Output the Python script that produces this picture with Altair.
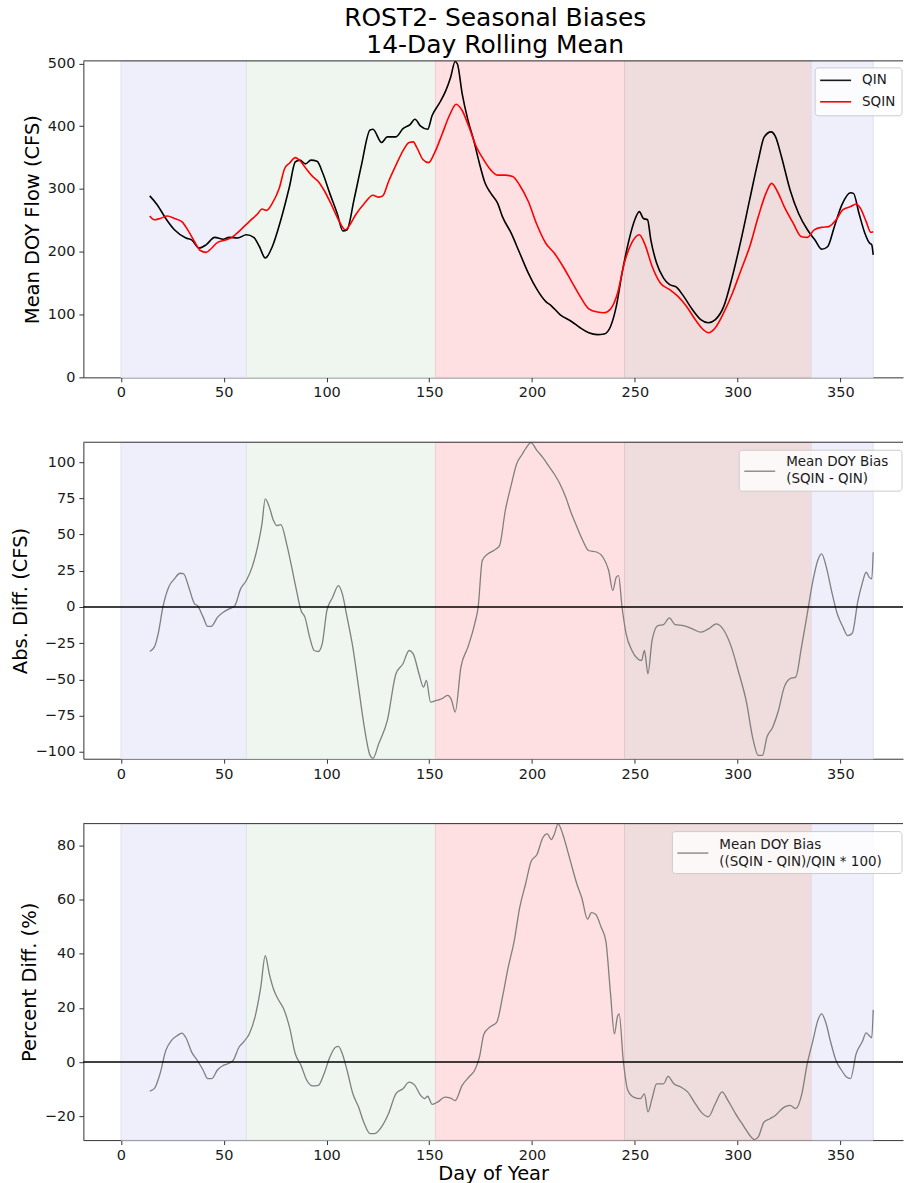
import altair as alt
import pandas as pd

# ---- 14-day rolling mean flow by day of year ----
qin_day = [14, 17.6, 21.8, 26, 31.6, 34.4, 38, 41.4, 45.6, 49.8, 52.6, 56.8, 61, 64.6, 67.4, 70.2, 73.6,
           77.8, 82, 84.8, 87, 89.8, 92.4, 95.4, 98.2, 101.6, 105.2, 108, 110, 113.4, 117, 121.2, 122.6,
           126.8, 129.6, 133.8, 137.2, 140.8, 143, 145.8, 149.2, 151.4, 154.8, 158.1, 160.4, 162.6, 163.7,
           166, 168.8, 171.6, 174.4, 177.2, 180, 183.3, 185.6, 189.8, 194, 198.2, 202.4, 206.6, 209.4,
           213.6, 219.2, 223.4, 227.6, 231.8, 235.1, 238.2, 241, 243.8, 247.2, 250, 252.2, 254.2, 256.2,
           257.8, 260.6, 264, 266.8, 270.1, 273.8, 278, 282.1, 285.8, 289.2, 293.3, 297.5, 301.7, 305.9,
           310.1, 313, 316.3, 318.5, 321.4, 325.6, 329.7, 334, 337.6, 341, 343.8, 347.1, 350.8, 354.9,
           356.4, 359.1, 361.9, 364.2, 365.3, 366]
qin_val = [289, 275, 253, 235, 222, 219, 206, 211, 223, 220, 223, 222, 227, 223, 208, 190, 208,
           251, 304, 343, 346, 340, 346, 344, 325, 293, 261, 233, 235, 283, 338, 394, 395,
           374, 383, 383, 396, 403, 411, 400, 395, 417, 436, 457, 478, 503, 499,
           452, 410, 378, 341, 309, 293, 277, 256, 230, 198, 166, 140, 121, 114,
           100, 89, 79, 71, 68, 69, 81, 113, 166, 219, 251, 264, 253, 251,
           219, 182, 158, 148, 144, 129, 108, 92, 87, 92, 113, 161, 219, 283,
           346, 383, 391, 383, 351, 298, 261, 235, 219, 204, 208, 240, 275, 294,
           293, 261, 230, 214, 211, 195]

sqin_day = [14, 16.2, 19, 22.6, 26, 29.6, 33, 35.8, 38.6, 41.4, 44.2, 47, 51.2, 54, 58.2, 62.4, 66.6,
            68.6, 70.8, 73.6, 77, 79.7, 82, 84.8, 87.6, 90.4, 93.2, 96, 98.8, 102.1, 105.8, 109.1, 111.4,
            114.2, 118.4, 122.6, 125.4, 127.4, 130.2, 133.8, 137.4, 140.2, 142.2, 144.1, 146.9, 149.7,
            152.5, 156.1, 159.8, 163.1, 166, 169.3, 172.9, 176.6, 180, 183.3, 187, 190.6, 194, 198.2,
            202.4, 206.6, 210.8, 215, 219.2, 223.4, 227.6, 231.8, 235.1, 238.2, 241.6, 244.9, 248.5,
            252.2, 255, 258.4, 262.5, 266.8, 271, 275.2, 279.4, 283, 285.8, 289.2, 293.3, 297.5, 301.7,
            305.9, 310.1, 313.8, 316.6, 319.4, 322.7, 327, 331.1, 334, 337.3, 341, 344.3, 348, 351.3,
            355, 357.8, 359.8, 362.6, 364.8, 366]
sqin_val = [257, 251, 253, 257, 253, 248, 232, 216, 202, 199, 206, 215, 219, 223, 235, 248, 261,
            268, 266, 277, 301, 333, 341, 350, 343, 331, 320, 312, 298, 277, 251, 235, 243,
            259, 277, 290, 287, 289, 312, 338, 362, 374, 375, 365, 347, 342,
            357, 386, 417, 435, 425, 399, 367, 346, 330, 322, 322, 320, 306, 280,
            243, 214, 198, 177, 153, 129, 109, 104, 103, 109, 134, 182, 214,
            227, 211, 177, 150, 140, 129, 113, 92, 77, 71, 79, 103, 134, 171,
            208, 256, 293, 309, 296, 272, 246, 224, 223, 235, 239, 240, 251, 267,
            272, 276, 269, 248, 231, 232]

# ---- mean DOY bias, SQIN - QIN (CFS) ----
abs_day = [14, 16.2, 18.1, 20.4, 23.2, 26, 28.8, 30.5, 33, 35.8, 37.2, 40, 42.2, 43.9, 47, 49.8, 52.6,
           55.4, 58.2, 61, 63.8, 66.6, 68.6, 70.2, 72.2, 74.2, 75.8, 77.8, 80.6, 83.4, 85.4, 87.6, 89.5,
           91.8, 94, 96, 97.9, 100.2, 103, 105.8, 107.7, 110, 112.8, 115.6, 118.4, 121.2, 122.6, 125.4,
           129.6, 133.8, 137.2, 140.2, 142.2, 145, 147.2, 148.6, 150.6, 153.4, 156.1, 158.9, 160.9,
           162.6, 165.4, 168.8, 172.1, 173.8, 175.8, 178.6, 181.4, 184.2, 187, 189.8, 192.5, 195.3,
           197.3, 199.5, 202.4, 205.2, 208, 210.8, 213.6, 216.4, 219.2, 221.9, 224.7, 227.5, 231.7,
           234.5, 237.3, 239.3, 241, 242.1, 243.8, 245.8, 248.6, 251.4, 253.3, 254.7, 256.4, 258.4,
           261.2, 264, 266.8, 269.6, 273.8, 278, 282.2, 285.8, 289.7, 293.4, 297, 300.3, 304.5, 307.3,
           310.1, 312.1, 314.3, 317.1, 319.9, 322.7, 325.5, 328.3, 331.1, 333.9, 336.7, 339, 340.9,
           343.2, 345.7, 348.5, 351.3, 353.6, 355.8, 358.6, 360.6, 362.6, 364, 365.3, 366]
abs_val = [-30.7, -27.7, -18.5, 0, 13.7, 19.4, 23.3, 22.9, 13.7, 2.2, 1, -7, -13.4, -13.4, -7, -3.6, -1.3,
           1, 12.5, 18.3, 27.5, 42.4, 57.4, 74.6, 68.9, 59.7, 56.2, 56.9, 43.6, 25.2, 11.4, -2.4, -7,
           -20.8, -30, -30.7, -25.4, -2.4, 6.8, 14.8, 9.1, -7, -27.7, -55.3, -82.9, -102.4, -104.5, -94.4,
           -78.3, -46.1, -39.2, -30, -32.3, -46.1, -55.3, -50.7, -65.6, -64.5, -63.3, -61, -64.5,
           -72.5, -41.5, -27.7, -11.6, 0, 32.1, 36.7, 39, 42.4, 66.6, 83.8, 98.7, 105.6,
           110.2, 113.5, 107.9, 103.3, 97.6, 91.8, 84.9, 75.7, 64.3, 55.1, 45.9, 39, 37.8,
           34.4, 25.2, 11.4, 20.6, 21.7, 0, -18.5, -30, -35.7, -36.9, -30, -46.1, -23.1,
           -12.8, -12.1, -7.5, -12.1, -12.8, -15.1, -17.4, -15.1, -11.6, -16.2, -27.7, -43.8, -66.8, -89.8,
           -102.4, -102.4, -89.8, -82.9, -71.4, -55.3, -49.5, -48.4, -27.7, -4.7, 18.3, 32.1, 36.7,
           27.5, 11.4, -4.7, -13.9, -19.7, -18.1, 4.5, 16, 24, 20.6, 19.4, 37.8]

# ---- mean DOY bias, (SQIN - QIN)/QIN * 100 (%) ----
pct_day = [14, 16.2, 19, 21.8, 24.6, 27.4, 29.6, 31.6, 34.4, 37.2, 40, 42.2, 44.2, 47, 49.8, 52.6, 54.6,
           57.4, 59.6, 62.4, 65.2, 68, 70.2, 72.2, 74.2, 76.4, 79.2, 82, 84.8, 87.6, 90.4, 93.2, 96, 98.8,
           101.6, 104.4, 105.8, 107.7, 110, 112.8, 115.6, 118.4, 121.2, 123.4, 126.8, 130.2, 133.8,
           137.2, 140.2, 143, 145.8, 147.8, 149.2, 151.4, 154.2, 157.6, 160.4, 162.6, 166, 169.3,
           172.1, 174.4, 176.6, 179.4, 182.8, 185.6, 188.4, 191.2, 194, 196.8, 199.6, 202.4, 205.2,
           207.4, 209.4, 210.8, 212.7, 215, 217.8, 220, 221.9, 224.2, 227, 228.9, 230.9, 233.7, 235.9,
           238.2, 240.1, 241.5, 242.4, 244.4, 246.6, 249.4, 252.7, 254.7, 256.4, 258.4, 260.6, 264,
           266.2, 269, 272.4, 275.7, 279.4, 282.2, 285.8, 289.2, 292.5, 295.3, 299, 303.2, 305.9,
           308.2, 310.1, 312.9, 315.7, 318.5, 322.7, 325.5, 328.3, 331.1, 333.9, 336.7, 339, 340.9,
           342.9, 345.1, 347.9, 350.7, 353, 355, 357.7, 360.6, 362.6, 364, 365.3, 366]
pct_val = [-10.7, -9.8, -4.3, 4.3, 8, 9.8, 10.7, 9, 3.7, 0.6, -3, -6.1, -6.1, -2.8, -1.2, -0.4, 0.6,
           5.5, 7.4, 10.4, 16.6, 27.6, 39.3, 32.5, 27, 23.3, 19.6, 12.9, 3.1, -1.2, -6.7, -8.8, -8.6, -4.3,
           1.8, 5.5, 5.8, 3.1, -3, -11.6, -16.6, -22.7, -26.4, -26.4, -23.9, -19, -11.6,
           -9.8, -7.4, -8.6, -12.3, -13.5, -12.6, -15.6, -14.7, -12.9, -13.3, -14.2, -8.6, -5.5,
           -3, 1.8, 10.4, 12.9, 14.7, 23.9, 35, 44.2, 57.1, 65.6, 74.2, 76.7, 82.8,
           84.3, 82.2, 84.1, 88, 84.1, 76.7, 70.6, 65.6, 60.7, 52.8, 55.2, 54.6, 49.7, 44.8,
           25.2, 10.4, 16.6, 17.8, 0.6, -10.4, -12.9, -13.5, -11.7, -18.4, -13.5, -8, -8,
           -5.3, -8, -9.2, -11, -15.3, -18.4, -20.2, -15.3, -11, -14.1, -19, -23.9, -27,
           -28.6, -27.6, -22.1, -20.9, -19.6, -16.6, -16, -17.2, -12.3, -0.6, 8, 15.3, 17.8,
           14.7, 8, 0.6, -3.1, -5.5, -6.1, 3.1, 7.4, 10.8, 9.8, 9, 19.3]

# ---- seasonal bands ----
season_start = [0, 61, 153, 245, 336]
season_end = [61, 153, 245, 336, 366]
season_name = ["Winter", "Spring", "Summer", "Fall", "Winter"]
season_order = ["Winter", "Spring", "Summer", "Fall"]
season_fill = ["#efeffc", "#eff6ef", "#fee0e3", "#efdcdc"]
season_edge = ["#dfe0f4", "#dde8e2", "#f3cdd3", "#e2c8cc"]

x_ticks = [0, 50, 100, 150, 200, 250, 300, 350]
flow_ticks = [0, 100, 200, 300, 400, 500]
abs_ticks = [-100, -75, -50, -25, 0, 25, 50, 75, 100]
pct_ticks = [-20, 0, 20, 40, 60, 80]

W = 821
H = 317
FONT = "DejaVu Sans"
AX = "#333333"

flow_df = pd.concat([
    pd.DataFrame({"day": qin_day, "value": qin_val, "series": "QIN"}),
    pd.DataFrame({"day": sqin_day, "value": sqin_val, "series": "SQIN"}),
])
abs_df = pd.DataFrame({"day": abs_day, "value": abs_val})
pct_df = pd.DataFrame({"day": pct_day, "value": pct_val})
season_df = pd.DataFrame({"start": season_start, "end": season_end, "season": season_name})
zero_df = pd.DataFrame({"zero": [0]})

x_scale = alt.Scale(domain=[-18.3, 380.5], nice=False, zero=False)


def x_axis(title=None):
    if title:
        return alt.Axis(values=x_ticks, format="d", title=title, titlePadding=2)
    return alt.Axis(values=x_ticks, format="d", title=None)


def seasons(xtitle=None):
    return alt.Chart(season_df).mark_rect(strokeWidth=1).encode(
        x=alt.X("start:Q", scale=x_scale, axis=x_axis(xtitle)),
        x2="end:Q",
        fill=alt.Fill("season:N", scale=alt.Scale(domain=season_order, range=season_fill), legend=None),
        stroke=alt.Stroke("season:N", scale=alt.Scale(domain=season_order, range=season_edge), legend=None),
    )


def top_border():
    return alt.Chart(zero_df).mark_rule(color=AX, strokeWidth=1).encode(
        x=alt.value(0), x2=alt.value(W), y=alt.value(0)
    )


def legend_box(x0, y0, y1):
    return alt.Chart(zero_df).mark_rect(
        fill="white", fillOpacity=0.8, stroke="#cccccc", strokeWidth=1, cornerRadius=3
    ).encode(x=alt.value(x0), x2=alt.value(W - 1), y=alt.value(y0), y2=alt.value(y1))


def legend_entry(label_lines, color, x0, y_line, y_text, width):
    sample = alt.Chart(zero_df).mark_rule(color=color, strokeWidth=width).encode(
        x=alt.value(x0 + 5), x2=alt.value(x0 + 36), y=alt.value(y_line)
    )
    text = alt.Chart(pd.DataFrame({"t": [label_lines]})).mark_text(
        align="left", baseline="middle", font=FONT, fontSize=13.5, color="#1a1a1a", lineHeight=17
    ).encode(text="t:N", x=alt.value(x0 + 47), y=alt.value(y_text))
    return sample + text


# ---- panel 1: flows ----
flow_y = alt.Y("value:Q", scale=alt.Scale(domain=[0, 504], nice=False),
               axis=alt.Axis(values=flow_ticks, title="Mean DOY Flow (CFS)"))
flow_lines = alt.Chart(flow_df).mark_line(strokeWidth=1.6, interpolate="monotone").encode(
    x=alt.X("day:Q", scale=x_scale, axis=x_axis()),
    y=flow_y,
    color=alt.Color("series:N", scale=alt.Scale(domain=["QIN", "SQIN"], range=["#000000", "#ff0000"]),
                    legend=None),
    detail="series:N",
)
q_box = 733
panel1 = alt.layer(
    seasons(),
    flow_lines,
    top_border(),
    legend_box(q_box, 7, 55),
    legend_entry("QIN", "#1a1a1a", q_box, 19.5, 19.5, 1.6),
    legend_entry("SQIN", "#ff0000", q_box, 41, 41, 1.6),
).properties(
    width=W, height=H,
    title=alt.Title(["ROST2- Seasonal Biases", "14-Day Rolling Mean"], font=FONT, fontSize=25,
                    fontWeight="normal", color="#000000", anchor="middle", dx=2, offset=-3, lineHeight=27),
)

# ---- panel 2: absolute bias ----
abs_scale = alt.Scale(domain=[-104.7, 113.7], nice=False, zero=False)
abs_axis = alt.Axis(values=abs_ticks, title="Abs. Diff. (CFS)")
abs_line = alt.Chart(abs_df).mark_line(strokeWidth=1.3, color="#7f7f7f", interpolate="monotone").encode(
    x=alt.X("day:Q", scale=x_scale, axis=x_axis()),
    y=alt.Y("value:Q", scale=abs_scale, axis=abs_axis),
)
zero2 = alt.Chart(zero_df).mark_rule(color="#000000", strokeWidth=1.5).encode(
    y=alt.Y("zero:Q", scale=abs_scale, axis=abs_axis)
)
a_box = 657
panel2 = alt.layer(
    seasons(),
    abs_line,
    zero2,
    top_border(),
    legend_box(a_box, 8, 49),
    legend_entry(["Mean DOY Bias", "(SQIN - QIN)"], "#7f7f7f", a_box, 29, 20, 1.3),
).properties(width=W, height=H)

# ---- panel 3: percent bias ----
pct_scale = alt.Scale(domain=[-28.8, 88.1], nice=False, zero=False)
pct_axis = alt.Axis(values=pct_ticks, title="Percent Diff. (%)")
pct_line = alt.Chart(pct_df).mark_line(strokeWidth=1.3, color="#7f7f7f", interpolate="monotone").encode(
    x=alt.X("day:Q", scale=x_scale, axis=x_axis("Day of Year")),
    y=alt.Y("value:Q", scale=pct_scale, axis=pct_axis),
)
zero3 = alt.Chart(zero_df).mark_rule(color="#000000", strokeWidth=1.5).encode(
    y=alt.Y("zero:Q", scale=pct_scale, axis=pct_axis)
)
p_box = 590
panel3 = alt.layer(
    seasons("Day of Year"),
    pct_line,
    zero3,
    top_border(),
    legend_box(p_box, 8, 50),
    legend_entry(["Mean DOY Bias", "((SQIN - QIN)/QIN * 100)"], "#7f7f7f", p_box, 29.5, 21, 1.3),
).properties(width=W, height=H)

chart = alt.vconcat(panel1, panel2, panel3, spacing=40).properties(
    padding={"left": 9.5, "top": 5, "right": 0, "bottom": 0}
).configure_view(stroke=None).configure_axis(
    grid=False,
    labelFont=FONT, labelFontSize=14.5, labelColor="#1a1a1a", labelPadding=4,
    titleFont=FONT, titleFontSize=19.5, titleFontWeight="normal", titleColor="#000000", titlePadding=5,
    domainColor=AX, domainWidth=1, tickColor=AX, tickWidth=1, tickSize=4.5,
)

chart.save("out.html", embed_options={"renderer": "svg", "actions": False})
